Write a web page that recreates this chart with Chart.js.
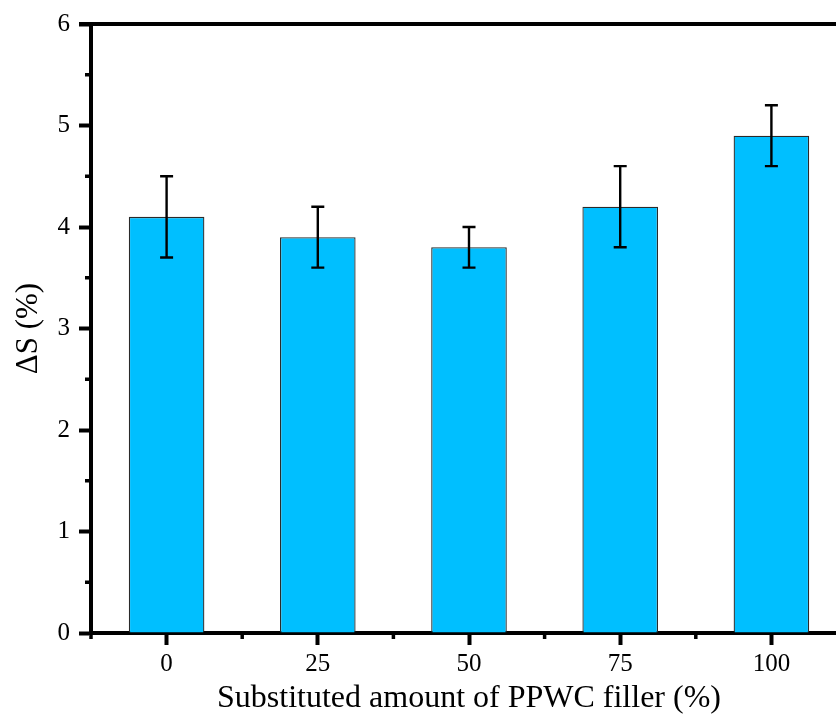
<!DOCTYPE html>
<html>
<head>
<meta charset="utf-8">
<script src="https://cdn.jsdelivr.net/npm/chart.js@4.4.1/dist/chart.umd.min.js"></script>
<style>
    html, body { margin: 0; padding: 0; background: #ffffff; overflow: hidden; }
    #wrap { width: 880px; height: 718px; }
</style>
</head>
<body>
<div id="wrap"><canvas id="bar-chart"></canvas></div>
<script>
// Data
const categories = ['0', '25', '50', '75', '100'];
const shrinkValues = [4.1, 3.9, 3.8, 4.2, 4.9];
const errLow = [3.7, 3.6, 3.6, 3.8, 4.6];
const errHigh = [4.5, 4.2, 4.0, 4.6, 5.2];
const yTicks = [0, 1, 2, 3, 4, 5, 6];

const fontFamily = "'Times New Roman', 'Liberation Serif', serif";
const axisColor = '#000000';

// Error bars, drawn from the data through the y scale
const errorBarPlugin = {
    id: 'errorBars',
    afterDatasetsDraw(chart) {
        const ctx = chart.ctx;
        const yScale = chart.scales.y;
        const meta = chart.getDatasetMeta(0);
        ctx.save();
        ctx.strokeStyle = '#000000';
        ctx.lineWidth = 2.4;
        meta.data.forEach((bar, i) => {
            const x = bar.x;
            const yTop = yScale.getPixelForValue(errHigh[i]);
            const yBottom = yScale.getPixelForValue(errLow[i]);
            ctx.beginPath();
            ctx.moveTo(x, yTop);
            ctx.lineTo(x, yBottom);
            ctx.moveTo(x - 6.5, yTop);
            ctx.lineTo(x + 6.5, yTop);
            ctx.moveTo(x - 6.5, yBottom);
            ctx.lineTo(x + 6.5, yBottom);
            ctx.stroke();
        });
        ctx.restore();
    }
};

// Top frame line and minor ticks
const framePlugin = {
    id: 'frame',
    afterDraw(chart) {
        const ctx = chart.ctx;
        const area = chart.chartArea;
        const xScale = chart.scales.x;
        const yScale = chart.scales.y;
        ctx.save();
        ctx.strokeStyle = axisColor;
        ctx.lineWidth = 4;
        ctx.beginPath();
        ctx.moveTo(area.left - 12, area.top);
        ctx.lineTo(area.right, area.top);
        ctx.stroke();

        ctx.lineWidth = 3.5;
        ctx.beginPath();
        for (let v = 0.5; v < 6; v += 1) {
            const y = yScale.getPixelForValue(v);
            ctx.moveTo(area.left - 6, y);
            ctx.lineTo(area.left, y);
        }
        for (let i = 0; i <= categories.length; i++) {
            const x = xScale.getPixelForValue(i - 0.5);
            ctx.moveTo(x, area.bottom);
            ctx.lineTo(x, area.bottom + 6);
        }
        ctx.stroke();
        ctx.restore();
    }
};

new Chart(document.getElementById('bar-chart'), {
    type: 'bar',
    data: {
        labels: categories,
        datasets: [{
            data: shrinkValues,
            backgroundColor: '#00BFFF',
            borderColor: '#2a2a2a',
            borderWidth: 1.3,
            categoryPercentage: 1.0,
            barPercentage: 0.5
        }]
    },
    options: {
        responsive: true,
        maintainAspectRatio: false,
        animation: false,
        layout: {
            padding: { top: 22, right: 33, left: 0, bottom: 0 }
        },
        plugins: {
            legend: { display: false },
            tooltip: { enabled: false }
        },
        scales: {
            x: {
                offset: true,
                afterFit(scale) { scale.height = 85; },
                grid: {
                    offset: false,
                    drawOnChartArea: false,
                    drawTicks: true,
                    tickLength: 12,
                    tickWidth: 4,
                    tickColor: axisColor
                },
                border: { display: true, color: axisColor, width: 4 },
                ticks: {
                    color: '#000000',
                    padding: 4,
                    maxRotation: 0,
                    font: { family: fontFamily, size: 25 }
                },
                title: {
                    display: true,
                    text: 'Substituted amount of PPWC filler (%)',
                    color: '#000000',
                    padding: { top: 0, bottom: 0 },
                    font: { family: fontFamily, size: 32 }
                }
            },
            y: {
                min: yTicks[0],
                max: yTicks[yTicks.length - 1],
                afterFit(scale) { scale.width = 91; },
                afterBuildTicks(scale) {
                    scale.ticks = yTicks.map(v => ({ value: v }));
                },
                grid: {
                    drawOnChartArea: false,
                    drawTicks: true,
                    tickLength: 12,
                    tickWidth: 4,
                    tickColor: axisColor
                },
                border: { display: true, color: axisColor, width: 4 },
                ticks: {
                    color: '#000000',
                    padding: 9,
                    font: { family: fontFamily, size: 25 }
                },
                title: {
                    display: true,
                    text: 'ΔS (%)',
                    color: '#000000',
                    padding: { top: 10, bottom: 0 },
                    font: { family: fontFamily, size: 31 }
                }
            }
        }
    },
    plugins: [errorBarPlugin, framePlugin]
});
</script>
</body>
</html>
